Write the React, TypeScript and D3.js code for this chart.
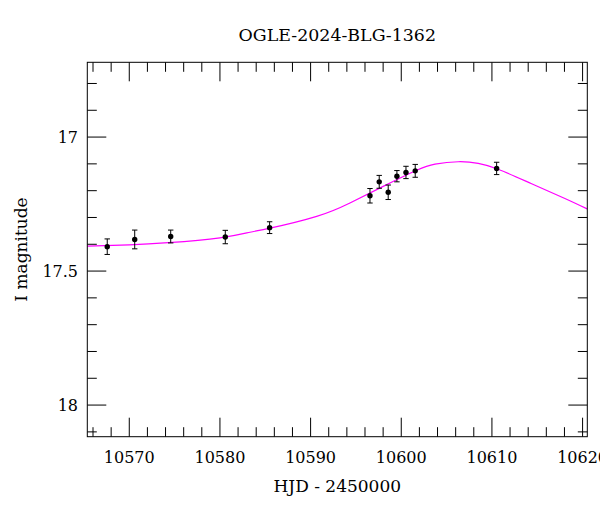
import React from "react";
import * as d3 from "d3";

// observed photometry: HJD - 2450000, I magnitude, error
const obsHjd = [
  10567.57, 10570.6, 10574.57, 10580.59, 10585.48, 10596.55, 10597.57,
  10598.56, 10599.52, 10600.52, 10601.54, 10610.52,
];
const obsMag = [
  17.409, 17.382, 17.371, 17.373, 17.338, 17.219, 17.167, 17.206, 17.146,
  17.132, 17.126, 17.117,
];
const obsErr = [
  0.029, 0.035, 0.024, 0.025, 0.022, 0.027, 0.024, 0.027, 0.021, 0.023, 0.024,
  0.023,
];

// model curve
const modelHjd = [
  10565.37, 10570.0, 10574.3, 10580.0, 10583.31, 10585.52, 10590.67, 10594.34,
  10598.01, 10601.7, 10603.72, 10606.29, 10608.49, 10610.7, 10614.38, 10618.05,
  10620.51,
];
const modelMag = [
  17.407, 17.402, 17.394, 17.376, 17.355, 17.34, 17.296, 17.246, 17.184,
  17.124, 17.101, 17.092, 17.098, 17.12, 17.174, 17.229, 17.268,
];

const xMajor = [10570, 10580, 10590, 10600, 10610, 10620];
const yMajor = [17, 17.5, 18];
const yMajorLabels = ["17", "17.5", "18"];

const W = 600;
const H = 512;
const left = 87.3;
const right = 587.3;
const top = 62.3;
const bottom = 436.7;
const font = "'DejaVu Serif', serif";

const App = () => {
  const x = d3.scaleLinear().domain([10565.37, 10620.52]).range([left, right]);
  const y = d3.scaleLinear().domain([16.721, 18.118]).range([top, bottom]);

  const xMinor = d3.range(10566, 10621, 2).filter((d) => d % 10 !== 0);
  const yMinor = d3
    .range(168, 182, 1)
    .map((d) => d / 10)
    .filter((d) => Math.round(d * 10) % 5 !== 0);

  const line = d3
    .line<number>()
    .x((d) => x(d))
    .y((_d, i) => y(modelMag[i]))
    .curve(d3.curveNatural);

  const major = 19;
  const minor = 9.5;

  return (
    <svg
      width={W}
      height={H}
      style={{ position: "absolute", left: 0, top: 0, background: "white" }}
    >
      <defs>
        <clipPath id="plot">
          <rect x={left} y={top} width={right - left} height={bottom - top} />
        </clipPath>
      </defs>

      {/* ticks, all four sides, pointing in */}
      <g stroke="#000" strokeWidth={1}>
        {xMajor.map((d) => (
          <g key={"xm" + d}>
            <line x1={x(d)} x2={x(d)} y1={bottom} y2={bottom - major} />
            <line x1={x(d)} x2={x(d)} y1={top} y2={top + major} />
          </g>
        ))}
        {xMinor.map((d) => (
          <g key={"xn" + d}>
            <line x1={x(d)} x2={x(d)} y1={bottom} y2={bottom - minor} />
            <line x1={x(d)} x2={x(d)} y1={top} y2={top + minor} />
          </g>
        ))}
        {yMajor.map((d) => (
          <g key={"ym" + d}>
            <line x1={left} x2={left + major} y1={y(d)} y2={y(d)} />
            <line x1={right} x2={right - major} y1={y(d)} y2={y(d)} />
          </g>
        ))}
        {yMinor.map((d) => (
          <g key={"yn" + d}>
            <line x1={left} x2={left + minor} y1={y(d)} y2={y(d)} />
            <line x1={right} x2={right - minor} y1={y(d)} y2={y(d)} />
          </g>
        ))}
      </g>

      {/* model */}
      <path
        d={line(modelHjd) || ""}
        fill="none"
        stroke="#ff00ff"
        strokeWidth={1.2}
        clipPath="url(#plot)"
      />

      {/* data with error bars */}
      <g stroke="#000" strokeWidth={1}>
        {obsHjd.map((d, i) => {
          const cx = x(d);
          const y1 = y(obsMag[i] - obsErr[i]);
          const y2 = y(obsMag[i] + obsErr[i]);
          return (
            <g key={"p" + i}>
              <line x1={cx} x2={cx} y1={y1} y2={y2} />
              <line x1={cx - 2.7} x2={cx + 2.7} y1={y1} y2={y1} />
              <line x1={cx - 2.7} x2={cx + 2.7} y1={y2} y2={y2} />
              <circle cx={cx} cy={y(obsMag[i])} r={2.7} fill="#000" stroke="none" />
            </g>
          );
        })}
      </g>

      <rect
        x={left}
        y={top}
        width={right - left}
        height={bottom - top}
        fill="none"
        stroke="#000"
        strokeWidth={1}
      />

      {/* tick labels */}
      <g fontFamily={font} fontSize={16} fill="#000">
        {xMajor.map((d) => (
          <text key={"xl" + d} x={x(d)} y={462.7} textAnchor="middle">
            {d}
          </text>
        ))}
        {yMajor.map((d, i) => (
          <text key={"yl" + d} x={78} y={y(d) + 6} textAnchor="end">
            {yMajorLabels[i]}
          </text>
        ))}
      </g>

      <text
        x={(left + right) / 2}
        y={41}
        textAnchor="middle"
        fontFamily={font}
        fontSize={17.4}
      >
        OGLE-2024-BLG-1362
      </text>
      <text
        x={(left + right) / 2}
        y={491.5}
        textAnchor="middle"
        fontFamily={font}
        fontSize={17}
      >
        HJD - 2450000
      </text>
      <text
        transform={`translate(27, ${(top + bottom) / 2}) rotate(-90)`}
        textAnchor="middle"
        fontFamily={font}
        fontSize={17}
      >
        I magnitude
      </text>
    </svg>
  );
};

export default App;
